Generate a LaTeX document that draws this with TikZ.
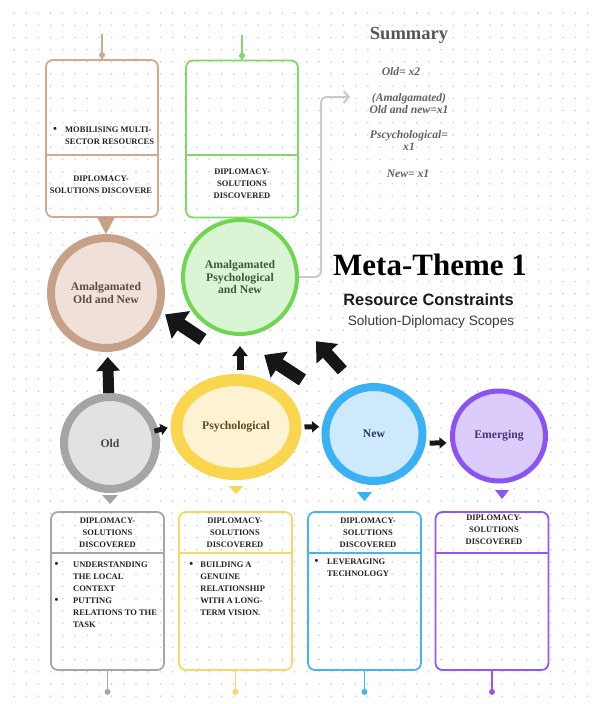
\documentclass[tikz,border=0pt]{standalone}
\usepackage{fontspec}
\setmainfont{Liberation Serif}
\setsansfont{Liberation Sans}
\usetikzlibrary{arrows.meta,calc,shapes.geometric}

\definecolor{gridc}{HTML}{CFCFCF}
\definecolor{inkc}{HTML}{222222}
\definecolor{arrowc}{HTML}{161616}
\definecolor{sumc}{HTML}{C4CCD4}
\definecolor{sumhc}{HTML}{555555}
\definecolor{sumtxt}{HTML}{626262}
\definecolor{titlec}{HTML}{1C1C1C}
\definecolor{subc}{HTML}{3A3A3A}
\definecolor{brownc}{HTML}{C7A088}
\definecolor{brownf}{HTML}{EFE1D9}
\definecolor{browntxt}{HTML}{5B4B43}
\definecolor{brownbox}{HTML}{D2A88E}
\definecolor{greenc}{HTML}{6ED64F}
\definecolor{greenf}{HTML}{DAF5D4}
\definecolor{greentxt}{HTML}{3D5A37}
\definecolor{greenbox}{HTML}{80D86A}
\definecolor{grayc}{HTML}{A5A5A5}
\definecolor{grayf}{HTML}{E2E2E2}
\definecolor{graytxt}{HTML}{474747}
\definecolor{graybox}{HTML}{A6A6A6}
\definecolor{yellowc}{HTML}{F9D64D}
\definecolor{yellowf}{HTML}{FDF3D2}
\definecolor{yellowtxt}{HTML}{5C4B1F}
\definecolor{yellowbox}{HTML}{F7D76A}
\definecolor{bluec}{HTML}{3AB1F5}
\definecolor{bluef}{HTML}{CEE9FB}
\definecolor{bluetxt}{HTML}{28395A}
\definecolor{bluebox}{HTML}{47B4F2}
\definecolor{purplec}{HTML}{8B53F4}
\definecolor{purplef}{HTML}{DCCCFB}
\definecolor{purpletxt}{HTML}{483372}
\definecolor{purplebox}{HTML}{9558EF}

\newcommand{\itmark}[1][12pt]{\makebox[#1][l]{\fontsize{11}{0}\selectfont\textbullet}}
\newcommand{\itpad}[1][12pt]{\hspace*{#1}}
\newcommand{\dropmark}[4]{\fill[#4] (#1) ++(-#2,0) -- ++(2*#2,0) -- ++(-#2,#3) -- cycle;}

\begin{document}
\begin{tikzpicture}[
  x = 1pt, y = -1pt,
  every node/.style = {text = inkc},
  ring/.style = {ellipse, draw, line width = #1, font = \fontsize{11.7}{12.5}\selectfont\bfseries, align = center},
  card/.style = {draw, rounded corners = 7pt, line width = 1.8pt, minimum width = 112pt, minimum height = 157pt},
  cardtext/.style = {inner sep = 0pt, font = \fontsize{8.5}{12}\selectfont\bfseries, align = center},
  cardlist/.style = {cardtext, align = left, anchor = west},
  lead/.style = {line width = 1.5pt},
  flow/.style n args = {3}{draw = arrowc, line width = #1, -{Triangle[width = #2, length = #3]}},
  nudge/.style = {draw = arrowc, line width = 5pt, -{Triangle[width = 11pt, length = 7pt]}},
  sumline/.style = {draw = sumc, line width = 2pt, rounded corners = 6pt, -{Straight Barb[width = 12pt, length = 5pt]}},
  sumhead/.style = {text = sumhc, inner sep = 0pt, font = \fontsize{18.5}{18.5}\selectfont\bfseries},
  sumtext/.style = {text = sumtxt, inner sep = 0pt, font = \fontsize{11.6}{12}\selectfont\bfseries\itshape, align = center}
  ]
  \fill[white] (0,0) rectangle (598,704);
  \useasboundingbox (0,0) rectangle (598,704);
  \fill[gridc] \foreach \gx in {14,26.2,...,592} {\foreach \gy in {13,25.2,...,702} {(\gx,\gy) circle (0.9pt)}};

  % cards
  \node[card, draw = brownbox] (amalONbox) at (102, 138.5) {};
  \node[card, draw = greenbox] (amalPNbox) at (242, 139) {};
  \node[card, draw = graybox, minimum width = 113pt, minimum height = 158pt] (oldbox) at (107.5, 591) {};
  \node[card, draw = yellowbox, minimum width = 113pt, minimum height = 158pt] (psychbox) at (235.5, 591) {};
  \node[card, draw = bluebox, minimum width = 113pt, minimum height = 158pt] (newbox) at (364.5, 591) {};
  \node[card, draw = purplebox, minimum width = 113pt, minimum height = 158pt] (emergbox) at (492, 591) {};
  \draw[brownbox, line width = 1.8pt] (amalONbox.west |- 0,155) -- (amalONbox.east |- 0,155);
  \draw[greenbox, line width = 1.8pt] (amalPNbox.west |- 0,155) -- (amalPNbox.east |- 0,155);
  \foreach \b/\c in {oldbox/graybox, psychbox/yellowbox, newbox/bluebox, emergbox/purplebox} {
    \draw[\c, line width = 1.8pt] (\b.west |- 0,553) -- (\b.east |- 0,553);
    \draw[\c, lead] (\b.south) -- ++(0,21);
    \fill[\c] (\b.south) ++(0,21) circle (3pt);
  }
  \draw[brownbox, lead] (amalONbox.north) -- ++(0,-25);
  \fill[brownbox] (amalONbox.north) ++(0,-4) circle (3pt);
  \draw[greenbox, lead] (amalPNbox.north) -- ++(0,-25);
  \fill[greenbox] (amalPNbox.north) ++(0,-4) circle (3pt);

  % circles
  \node[ring = 8pt, draw = brownc, fill = brownf, text = browntxt, minimum width = 110pt, minimum height = 110pt] (amalON) at (106, 293) {Amalgamated\\Old and New};
  \node[ring = 4pt, draw = greenc, fill = greenf, text = greentxt, minimum width = 114pt, minimum height = 114pt] (amalPN) at (240, 277) {Amalgamated\\Psychological\\and New};
  \node[ring = 8pt, draw = grayc, fill = grayf, text = graytxt, minimum width = 92pt, minimum height = 92pt] (old) at (110, 443) {Old};
  \node[ring = 12pt, draw = yellowc, fill = yellowf, text = yellowtxt, minimum width = 119pt, minimum height = 94pt] (psych) at (236, 427) {Psychological};
  \node[ring = 8pt, draw = bluec, fill = bluef, text = bluetxt, minimum width = 97pt, minimum height = 94pt] (new) at (374, 434) {New};
  \node[ring = 5pt, draw = purplec, fill = purplef, text = purpletxt, minimum width = 93pt, minimum height = 90pt] (emerg) at (499, 436) {Emerging};

  \dropmark{$(amalON.north)+(0,-17)$}{9}{17}{brownc}
  \dropmark{$(old.south)+(0,2)$}{8}{9}{grayc}
  \dropmark{$(psych.south)+(0,6)$}{7}{8}{yellowc}
  \dropmark{$(newbox.north)+(0,-19)$}{7.5}{9}{bluec}
  \dropmark{$(emerg.south)+(3,6.5)$}{7}{9}{purplec}

  % arrows
  \draw[flow = {11pt}{23pt}{14pt}, shorten >= 5pt] (old) -- (amalON);
  \draw[flow = {13pt}{32pt}{19pt}, shorten <= 145pt, shorten >= 4pt] (new.164) -- (amalON.-19);
  \draw[flow = {7pt}{15pt}{10pt}, shorten <= 4pt, shorten >= 10pt] (amalPN.south |- psych.north) -- (amalPN.south);
  \draw[flow = {13pt}{30pt}{18pt}, shorten <= 38pt, shorten >= 35pt] (new.140) -- (amalPN.-95);
  \draw[flow = {12pt}{28pt}{17pt}, shorten <= 21pt, shorten >= 41pt] (new.110) -- (amalPN.-35);
  \draw[nudge, shorten <= -4pt, shorten >= 3pt] (old.15) -- (psych.west);
  \draw[nudge, shorten <= 3pt, shorten >= 3pt] (psych.east) -- (new.172);
  \draw[nudge, shorten <= 4pt, shorten >= 4pt] (new.-10) -- (emerg.188);

  % titles and summary
  \node[font = \fontsize{31}{31}\selectfont\bfseries, text = black, anchor = base] (theme) at (430, 275) {Meta-Theme 1};
  \node[font = \sffamily\fontsize{16.4}{16.4}\selectfont\bfseries, text = titlec, anchor = base] (scope) at (428.5, 305) {Resource Constraints};
  \node[font = \sffamily\fontsize{13.6}{13.6}\selectfont, text = subc, anchor = base] (sub) at (431, 325) {Solution-Diplomacy Scopes};

  \node[sumhead, anchor = base] (sumTitle) at (409, 39) {Summary};
  \node[sumtext, anchor = base] (sumOld) at (401, 75) {Old= x2};
  \node[sumtext] (sumAmal) at (409, 104) {(Amalgamated)\\Old and new=x1};
  \node[sumtext] (sumPsy) at (409, 140) {Pscychological=\\x1};
  \node[sumtext, anchor = base] (sumNew) at (408, 177) {New= x1};
  \coordinate (sumTip) at (350, 97);
  \draw[sumline] (amalPN.east) -- ++(22,0) |- (sumTip);

  % card texts
  \node[cardlist] (amalONlist) at (53, 135.5) {\itmark MOBILISING MULTI-\\\itpad SECTOR RESOURCES};
  \node[cardtext] (amalONhead) at (101, 184.5) {DIPLOMACY-\\SOLUTIONS DISCOVERE};
  \node[cardtext] (amalPNhead) at (242, 183.5) {DIPLOMACY-\\SOLUTIONS\\DISCOVERED};
  \node[cardtext] (oldhead) at (107.5, 533) {DIPLOMACY-\\SOLUTIONS\\DISCOVERED};
  \node[cardtext] (psychhead) at (235, 533) {DIPLOMACY-\\SOLUTIONS\\DISCOVERED};
  \node[cardtext] (newhead) at (368, 533) {DIPLOMACY-\\SOLUTIONS\\DISCOVERED};
  \node[cardtext] (emerghead) at (494, 530) {DIPLOMACY-\\SOLUTIONS\\DISCOVERED};
  \node[cardlist] (oldlist) at (54.5, 594.5) {\itmark[18.5pt]UNDERSTANDING\\\itpad[18.5pt]THE LOCAL\\\itpad[18.5pt]CONTEXT\\\itmark[18.5pt]PUTTING\\\itpad[18.5pt]RELATIONS TO THE\\\itpad[18.5pt]TASK};
  \node[cardlist] (psychlist) at (189.2, 589) {\itmark[11pt]BUILDING A\\\itpad[11pt]GENUINE\\\itpad[11pt]RELATIONSHIP\\\itpad[11pt]WITH A LONG-\\\itpad[11pt]TERM VISION.};
  \node[cardlist] (newlist) at (314.5, 568) {\itmark[12.5pt]LEVERAGING\\\itpad[12.5pt]TECHNOLOGY};
\end{tikzpicture}
\end{document}
